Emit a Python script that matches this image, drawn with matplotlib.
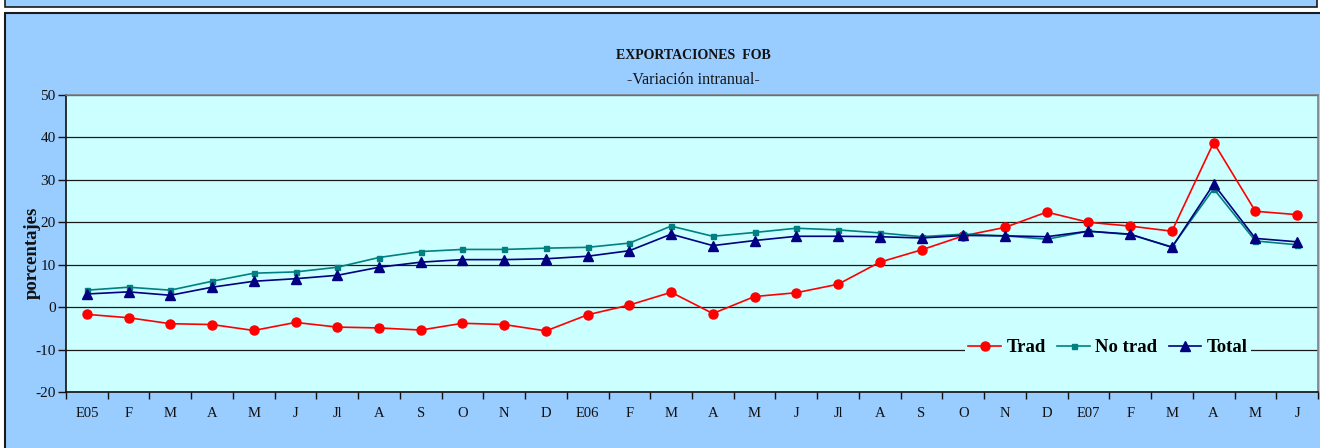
import matplotlib
matplotlib.use("Agg")
import matplotlib.pyplot as plt
from matplotlib.patches import Rectangle
from matplotlib.ticker import FixedLocator, NullFormatter

plt.rcParams['font.family'] = ['Liberation Serif', 'DejaVu Serif']
plt.rcParams['axes.unicode_minus'] = False

categories = ['E05', 'F', 'M', 'A', 'M', 'J', 'Jl', 'A', 'S', 'O', 'N', 'D',
              'E06', 'F', 'M', 'A', 'M', 'J', 'Jl', 'A', 'S', 'O', 'N', 'D',
              'E07', 'F', 'M', 'A', 'M', 'J']
trad = [-1.7, -2.5, -3.9, -4.1, -5.5, -3.6, -4.7, -4.9, -5.4, -3.8, -4.1, -5.6,
        -1.8, 0.5, 3.5, -1.5, 2.5, 3.4, 5.4, 10.6, 13.5, 16.8, 18.8, 22.4,
        20.0, 19.1, 17.9, 38.8, 22.6, 21.8]
no_trad = [4.0, 4.7, 4.0, 6.1, 8.0, 8.3, 9.4, 11.7, 13.1, 13.6, 13.6, 13.9,
           14.1, 15.1, 19.1, 16.7, 17.6, 18.6, 18.2, 17.5, 16.6, 17.2, 16.8, 16.0,
           17.9, 17.1, 14.2, 27.9, 15.6, 14.7]
total = [3.1, 3.6, 2.8, 4.7, 6.1, 6.7, 7.5, 9.4, 10.6, 11.2, 11.2, 11.4,
         12.0, 13.3, 17.2, 14.5, 15.7, 16.7, 16.7, 16.6, 16.3, 16.9, 16.8, 16.6,
         17.9, 17.2, 14.1, 29.0, 16.2, 15.4]
y_ticks = [-20, -10, 0, 10, 20, 30, 40, 50]

W, H = 1320, 448
fig = plt.figure(figsize=(W / 100, H / 100), dpi=100, facecolor='white')

def fx(px):
    return px / W

def fy(py):
    return 1 - py / H

# top strip (previous chart bottom edge)
r1 = Rectangle((fx(5), fy(7.5)), fx(1312), fy(-10) - fy(7.5),
               transform=fig.transFigure, facecolor='#99CCFF',
               edgecolor='#1a1a1a', linewidth=1.2, zorder=-10)
# main chart box
r2 = Rectangle((fx(5), fy(460)), fx(1330), fy(13) - fy(460),
               transform=fig.transFigure, facecolor='#99CCFF',
               edgecolor='#1a1a1a', linewidth=1.5, zorder=-10)
fig.add_artist(r1)
fig.add_artist(r2)

ax = fig.add_axes([fx(66), fy(392), fx(1318) - fx(66), fy(95) - fy(392)])
ax.set_zorder(1)
ax.set_facecolor('#CCFFFF')

x = list(range(len(categories)))
ax.plot(x, trad, color='#FF0000', lw=1.2, marker='o', ms=6.5,
        markerfacecolor='#FF0000', markeredgecolor='#FF0000', label='Trad', zorder=3)
ax.plot(x, no_trad, color='#008080', lw=1.2, marker='s', ms=3.6,
        markerfacecolor='#008080', markeredgecolor='#008080', label='No trad', zorder=3)
ax.plot(x, total, color='#000080', lw=1.2, marker='^', ms=7,
        markerfacecolor='#000080', markeredgecolor='#000080', label='Total', zorder=4)

ax.set_xlim(-0.5, len(categories) - 0.5)
ax.set_ylim(-20, 50)
ax.set_yticks(y_ticks)
ax.yaxis.grid(True, color='#1a1a1a', lw=0.9)
ax.set_axisbelow(True)

ax.set_xticks(x)
ax.set_xticklabels(categories, fontsize=10.5)
ax.xaxis.set_minor_locator(FixedLocator([i - 0.5 for i in range(len(categories) + 1)]))
ax.xaxis.set_minor_formatter(NullFormatter())
ax.tick_params(axis='x', which='major', length=0, pad=11, colors='#111111')
ax.tick_params(axis='x', which='minor', length=5, width=1, direction='out', color='#111111')
ax.tick_params(axis='y', length=6, width=1, direction='out', labelsize=11, pad=1.5,
               colors='#111111')

for s in ['left', 'bottom']:
    ax.spines[s].set_color('#111111')
    ax.spines[s].set_linewidth(1.2)
for s in ['top', 'right']:
    ax.spines[s].set_color('#808080')
    ax.spines[s].set_linewidth(1.2)

fig.text(fx(32), fy(253), 'porcentajes', rotation=90, ha='center', va='center',
         fontsize=13.5, fontweight='bold', color='#111111')
fig.text(fx(693), fy(55.5), 'EXPORTACIONES  FOB', ha='center', va='center',
         fontsize=10, fontweight='bold', color='#111111')
fig.text(fx(693), fy(80), '-Variación intranual-', ha='center', va='center',
         fontsize=11.5, color='#111111')

leg = ax.legend(loc='center', bbox_to_anchor=((1108 - 66) / 1252, (392 - 347.5) / 297),
                ncol=3, frameon=True, facecolor='#CCFFFF', edgecolor='#CCFFFF',
                framealpha=1, fancybox=False, prop={'weight': 'bold', 'size': 13.5},
                handlelength=1.75, handletextpad=0.28, columnspacing=0.6,
                borderpad=0.2, borderaxespad=0)
leg.get_frame().set_linewidth(0)

fig.savefig('out.png', dpi=100, facecolor=fig.get_facecolor())
